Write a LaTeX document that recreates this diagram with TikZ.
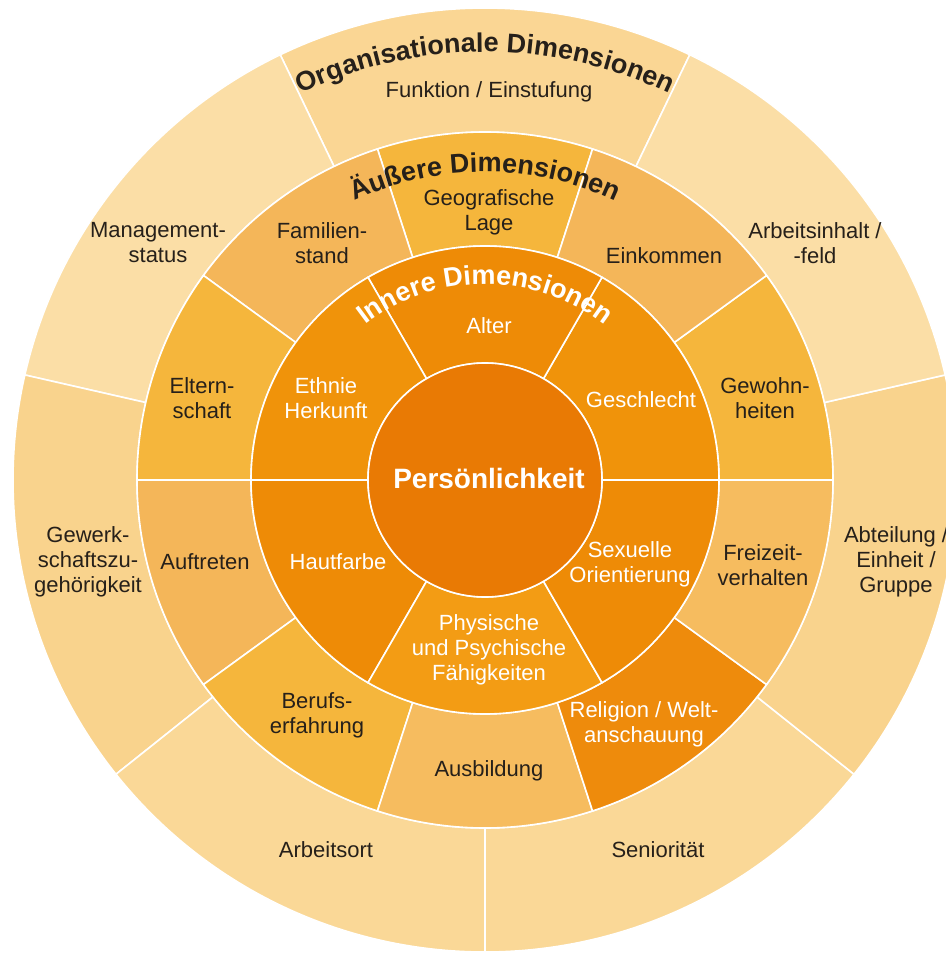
\documentclass[tikz,border=0pt]{standalone}
\usepackage{fontspec}
\setmainfont{Liberation Sans}
\usetikzlibrary{decorations.text}
\definecolor{kern}{HTML}{E97A04}
\definecolor{innerA}{HTML}{EE8B06}
\definecolor{innerB}{HTML}{F0930A}
\definecolor{innerC}{HTML}{F39C14}
\definecolor{outerA}{HTML}{F5B63C}
\definecolor{outerB}{HTML}{F4B659}
\definecolor{outerC}{HTML}{F6BC5F}
\definecolor{outerD}{HTML}{EE8B0C}
\definecolor{orgA}{HTML}{FAD694}
\definecolor{orgB}{HTML}{FBDEA6}
\definecolor{orgC}{HTML}{F9D38D}
\definecolor{orgD}{HTML}{FAD897}
\definecolor{schrift}{RGB}{38,32,26}
\tikzset{
  ring segment/.pic={
    \tikzset{%
      /segment/.cd,
      #1
    }
    \filldraw [pic actions]
    (\segfrom:\segin) arc [start angle=\segfrom, end angle=\segto, radius=\segin]
    -- (\segto:\segout) arc [start angle=\segto, end angle=\segfrom, radius=\segout] -- cycle;
  },
  /segment/.search also={/tikz},
  /segment/.cd,
  from/.store in=\segfrom,
  to/.store in=\segto,
  inner/.store in=\segin,
  outer/.store in=\segout,
  from=0,
  to=60,
  inner=117,
  outer=234,
}

\begin{document}
\begin{tikzpicture}[x=0.5pt, y=0.5pt,
   seg/.style={draw=white, line width=0.8pt},
   darktext/.style={text=schrift, align=center, font=\fontsize{11}{12.5}\selectfont},
   lighttext/.style={text=white, align=center, font=\fontsize{11}{12.5}\selectfont}
   ]
  \useasboundingbox (-485,-474) rectangle (461,480);

  % organisationale Dimensionen
  \pic[seg, fill=orgA] at (0,0) {ring segment={from=64.29, to=115.71, inner=348, outer=472}};
  \pic[seg, fill=orgB] at (0,0) {ring segment={from=115.71, to=167.14, inner=348, outer=472}};
  \pic[seg, fill=orgC] at (0,0) {ring segment={from=167.14, to=218.57, inner=348, outer=472}};
  \pic[seg, fill=orgD] at (0,0) {ring segment={from=218.57, to=270, inner=348, outer=472}};
  \pic[seg, fill=orgD] at (0,0) {ring segment={from=270, to=321.43, inner=348, outer=472}};
  \pic[seg, fill=orgC] at (0,0) {ring segment={from=-38.57, to=12.86, inner=348, outer=472}};
  \pic[seg, fill=orgB] at (0,0) {ring segment={from=12.86, to=64.29, inner=348, outer=472}};

  % aeussere Dimensionen
  \pic[seg, fill=outerA] at (0,0) {ring segment={from=72, to=108, inner=234, outer=348}};
  \pic[seg, fill=outerB] at (0,0) {ring segment={from=108, to=144, inner=234, outer=348}};
  \pic[seg, fill=outerA] at (0,0) {ring segment={from=144, to=180, inner=234, outer=348}};
  \pic[seg, fill=outerB] at (0,0) {ring segment={from=180, to=216, inner=234, outer=348}};
  \pic[seg, fill=outerA] at (0,0) {ring segment={from=216, to=252, inner=234, outer=348}};
  \pic[seg, fill=outerC] at (0,0) {ring segment={from=252, to=288, inner=234, outer=348}};
  \pic[seg, fill=outerD] at (0,0) {ring segment={from=288, to=324, inner=234, outer=348}};
  \pic[seg, fill=outerC] at (0,0) {ring segment={from=324, to=360, inner=234, outer=348}};
  \pic[seg, fill=outerA] at (0,0) {ring segment={from=0, to=36, inner=234, outer=348}};
  \pic[seg, fill=outerB] at (0,0) {ring segment={from=36, to=72, inner=234, outer=348}};

  % innere Dimensionen
  \pic[seg, fill=innerB] at (0,0) {ring segment={from=0, to=60}};
  \pic[seg, fill=innerA] at (0,0) {ring segment={from=60, to=120}};
  \pic[seg, fill=innerB] at (0,0) {ring segment={from=120, to=180}};
  \pic[seg, fill=innerA] at (0,0) {ring segment={from=180, to=240}};
  \pic[seg, fill=innerC] at (0,0) {ring segment={from=240, to=300}};
  \pic[seg, fill=innerA] at (0,0) {ring segment={from=300, to=360}};

  \filldraw[seg, fill=kern] (0,0) circle [radius=117];

  \path (4,2) node[text=white, font=\fontsize{14}{14}\bfseries\selectfont] (P) {Persönlichkeit};

  \path (4,154) node[lighttext] (I1) {Alter}
   (156,80) node[lighttext] (I2) {Geschlecht}
   (145,-84) node[lighttext] (I3) {Sexuelle\\Orientierung}
   (4,-170) node[lighttext] (I4) {Physische\\und Psychische\\Fähigkeiten}
   (-147,-82) node[lighttext] (I5) {Hautfarbe}
   (-159,82) node[lighttext] (I6) {Ethnie\\Herkunft};

  \path (4,268) node[darktext] (A1) {Geografische\\Lage}
   (179,224) node[darktext] (A2) {Einkommen}
   (280,82) node[darktext] (A3) {Gewohn-\\heiten}
   (278,-85) node[darktext] (A4) {Freizeit-\\verhalten}
   (159,-244) node[lighttext] (A5) {Religion / Welt-\\anschauung}
   (4,-291) node[darktext] (A6) {Ausbildung}
   (-168,-235) node[darktext] (A7) {Berufs-\\erfahrung}
   (-280,-82) node[darktext] (A8) {Auftreten}
   (-283,82) node[darktext] (A9) {Eltern-\\schaft}
   (-163,237) node[darktext] (A10) {Familien-\\stand};

  \path (4,388) node[darktext] (O1) {Funktion / Einstufung}
   (330,237) node[darktext] (O2) {Arbeitsinhalt /\\-feld}
   (411,-82) node[darktext] (O3) {Abteilung /\\Einheit /\\Gruppe}
   (173,-370) node[darktext] (O4) {Seniorität}
   (-159,-370) node[darktext] (O5) {Arbeitsort}
   (-397,-82) node[darktext] (O6) {Gewerk-\\schaftszu-\\gehörigkeit}
   (-327,237) node[darktext] (O7) {Management-\\status};

  % Ueberschriften
  \path[decorate, decoration={text along path, text align=center,
    text={|\fontsize{13.5}{14}\bfseries\color{schrift}|Organisationale Dimensionen}}]
    (150:428) arc [start angle=150, end angle=30, radius=428];
  \path[decorate, decoration={text along path, text align=center,
    text={|\fontsize{13.5}{14}\bfseries\color{schrift}|Äußere Dimensionen}}]
    (150:308) arc [start angle=150, end angle=30, radius=308];
  \path[decorate, decoration={text along path, text align=center,
    text={|\fontsize{13.5}{14}\bfseries\color{white}|Innere Dimensionen}}]
    (150:196) arc [start angle=150, end angle=30, radius=196];

\end{tikzpicture}
\end{document}
